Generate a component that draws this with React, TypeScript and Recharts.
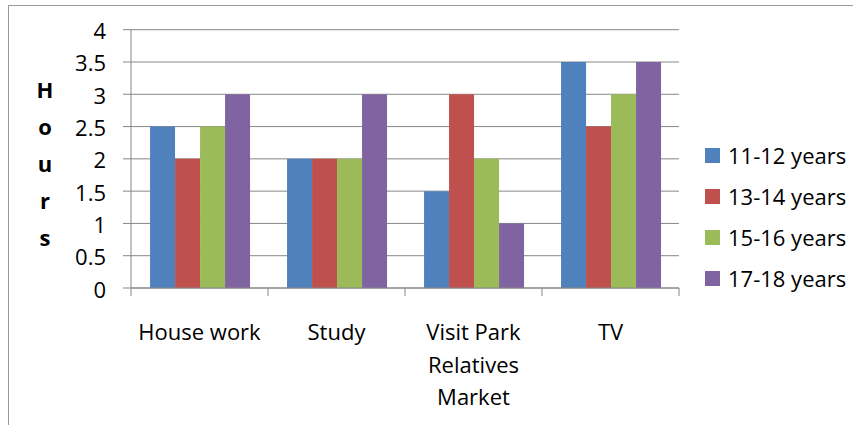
import React from "react";
import { BarChart, Bar, XAxis, YAxis, CartesianGrid, Legend } from "recharts";

const categories = ["House work", "Study", "Visit Park Relatives Market", "TV"];
const categoryLines = [["House work"], ["Study"], ["Visit Park", "Relatives", "Market"], ["TV"]];
const seriesNames = ["11-12 years", "13-14 years", "15-16 years", "17-18 years"];
const seriesColors = ["#4F81BD", "#C0504D", "#9BBB59", "#8064A2"];
const age11_12 = [2.5, 2, 1.5, 3.5];
const age13_14 = [2, 2, 3, 2.5];
const age15_16 = [2.5, 2, 2, 3];
const age17_18 = [3, 3, 1, 3.5];
const yTicks = [0, 0.5, 1, 1.5, 2, 2.5, 3, 3.5, 4];
const yLabel = "Hours";

const seriesValues = [age11_12, age13_14, age15_16, age17_18];
const data = categories.map((c, i) => {
  const row: Record<string, any> = { category: c };
  seriesNames.forEach((s, k) => {
    row[s] = seriesValues[k][i];
  });
  return row;
});

const FONT = "'Open Sans', sans-serif";
const AXIS = "#868686";

const XTick = (props: any) => {
  const { x, y, payload, index, visibleTicksCount } = props;
  const half = payload && payload.offset ? payload.offset : 68.5;
  const lines = categoryLines[index] || [String(payload.value)];
  const last = index === (visibleTicksCount ?? categories.length) - 1;
  return (
    <g>
      <line x1={x - half} x2={x - half} y1={y} y2={y + 8} stroke={AXIS} />
      {last && <line x1={x + half} x2={x + half} y1={y} y2={y + 8} stroke={AXIS} />}
      <text x={x} y={y + 52} textAnchor="middle" fontSize={22} fill="#000" fontFamily={FONT}>
        {lines.map((l: string, i: number) => (
          <tspan key={i} x={x} dy={i === 0 ? 0 : 32.5}>
            {l}
          </tspan>
        ))}
      </text>
    </g>
  );
};

const YTick = (props: any) => {
  const { x, y, payload } = props;
  return (
    <text x={x} y={y + 9.5} textAnchor="end" fontSize={22} fill="#000" fontFamily={FONT}>
      {String(payload.value)}
    </text>
  );
};

const HoursLabel = () => {
  const letters = yLabel.split("");
  return (
    <text x={45} y={98} textAnchor="middle" fontSize={22} fontWeight="bold" fill="#000" fontFamily={FONT}>
      {letters.map((l, i) => (
        <tspan key={i} x={45} dy={i === 0 ? 0 : 37}>
          {l}
        </tspan>
      ))}
    </text>
  );
};

const LegendContent = (props: any) => {
  const { payload } = props;
  return (
    <div style={{ paddingLeft: 26, fontFamily: FONT, fontSize: 22, color: "#000" }}>
      {(payload || []).map((p: any, i: number) => (
        <div key={i} style={{ height: 41, display: "flex", alignItems: "center" }}>
          <span style={{ width: 15, height: 15, background: p.color, display: "inline-block", marginRight: 8 }} />
          <span style={{ lineHeight: "30px" }}>{p.value}</span>
        </div>
      ))}
    </div>
  );
};

export default function App() {
  return (
    <div style={{ position: "absolute", left: 0, top: 0, width: 853, height: 425, overflow: "hidden", background: "#fff" }}>
      <div
        style={{
          position: "absolute",
          left: 8,
          top: 5,
          width: 950,
          height: 500,
          border: "1px solid #9a9a9a",
        }}
      />
      <div style={{ position: "absolute", left: 0, top: 0 }}>
        <BarChart
          width={853}
          height={425}
          data={data}
          margin={{ top: 29.7, right: 0, bottom: 37, left: 0 }}
          barCategoryGap="13.9%"
          barGap={0}
          style={{ fontFamily: FONT }}
        >
          <CartesianGrid vertical={false} stroke={AXIS} />
          <XAxis
            dataKey="category"
            height={100}
            axisLine={{ stroke: AXIS }}
            tickLine={false}
            tickSize={0}
            tickMargin={0}
            interval={0}
            tick={<XTick />}
          />
          <YAxis
            width={131}
            domain={[0, 4]}
            ticks={yTicks}
            interval={0}
            axisLine={{ stroke: AXIS }}
            tickLine={{ stroke: AXIS }}
            tickSize={8}
            tickMargin={17}
            tick={<YTick />}
            label={<HoursLabel />}
          />
          <Legend
            layout="vertical"
            align="right"
            verticalAlign="middle"
            wrapperStyle={{ width: 174, top: 134.5, right: 0 }}
            content={<LegendContent />}
          />
          {seriesNames.map((s, k) => (
            <Bar key={s} dataKey={s} fill={seriesColors[k]} isAnimationActive={false} />
          ))}
        </BarChart>
      </div>
    </div>
  );
}
